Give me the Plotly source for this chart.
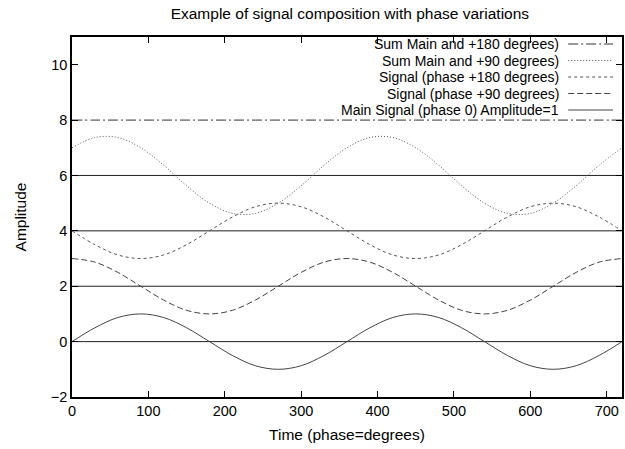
import plotly.graph_objects as go

deg = [0, 30, 60, 90, 120, 150, 180, 210, 240, 270, 300, 330, 360,
       390, 420, 450, 480, 510, 540, 570, 600, 630, 660, 690, 720]
main_sig = [0, 0.5, 0.87, 1, 0.87, 0.5, 0, -0.5, -0.87, -1, -0.87, -0.5, 0,
            0.5, 0.87, 1, 0.87, 0.5, 0, -0.5, -0.87, -1, -0.87, -0.5, 0]
sig_p90 = [3, 2.87, 2.5, 2, 1.5, 1.13, 1, 1.13, 1.5, 2, 2.5, 2.87, 3,
           2.87, 2.5, 2, 1.5, 1.13, 1, 1.13, 1.5, 2, 2.5, 2.87, 3]
sig_p180 = [4, 3.5, 3.13, 3, 3.13, 3.5, 4, 4.5, 4.87, 5, 4.87, 4.5, 4,
            3.5, 3.13, 3, 3.13, 3.5, 4, 4.5, 4.87, 5, 4.87, 4.5, 4]
sum_p90 = [7, 7.37, 7.37, 7, 6.37, 5.63, 5, 4.63, 4.63, 5, 5.63, 6.37, 7,
           7.37, 7.37, 7, 6.37, 5.63, 5, 4.63, 4.63, 5, 5.63, 6.37, 7]
sum_p180 = [8] * 25
baselines = [0, 2, 4, 6]

names = ["Sum Main and +180 degrees)", "Sum Main and +90 degrees)",
         "Signal (phase +180 degrees)", "Signal (phase +90 degrees)",
         "Main Signal (phase 0) Amplitude=1"]
series = [sum_p180, sum_p90, sig_p180, sig_p90, main_sig]
dashes = ["10px,3px,2px,3px", "1px,2px", "3px,3px", "6px,3px", "solid"]
colors = ["#333333", "#555555", "#555555", "#444444", "#444444"]

FONT = "Liberation Sans, Arial, sans-serif"
TXT = 15.5
LEGTXT = 14
fig = go.Figure()

for b in baselines:
    fig.add_trace(go.Scatter(x=[deg[0], deg[-1]], y=[b, b], mode="lines",
                             line=dict(color="#222222", width=1),
                             showlegend=False, hoverinfo="skip"))

for nm, ys, ds, c in zip(names, series, dashes, colors):
    fig.add_trace(go.Scatter(x=deg, y=ys, mode="lines", name=nm,
                             line=dict(color=c, width=1, dash=ds, shape="spline"),
                             showlegend=False))

# legend (gnuplot style: text right-aligned, sample on the right)
L, R, T, B = 72, 624, 37, 397
W, H = 625, 449
pw, ph = R - L, B - T
leg_y = [44, 60.5, 77, 93.5, 110]
for nm, ds, c, yy in zip(names, dashes, colors, leg_y):
    yp = (B - yy) / ph
    fig.add_annotation(x=(562 - L) / pw, y=yp, xref="paper", yref="paper",
                       text=nm, showarrow=False, xanchor="right", yanchor="middle",
                       borderpad=0,
                       font=dict(family=FONT, size=LEGTXT, color="black"))
    fig.add_shape(type="line", xref="paper", yref="paper",
                  x0=(570 - L) / pw, x1=(615 - L) / pw, y0=yp, y1=yp,
                  line=dict(color=c, width=1, dash=ds))

axis_common = dict(showgrid=False, zeroline=False, showline=True, mirror="ticks",
                   linecolor="black", linewidth=1.5, ticks="inside", ticklen=6,
                   tickcolor="black", tickwidth=1,
                   tickfont=dict(family=FONT, size=14.5, color="black"))

fig.update_layout(
    width=W, height=H,
    margin=dict(l=L, r=W - R, t=T, b=H - B),
    paper_bgcolor="white", plot_bgcolor="white",
    title=dict(text="Example of signal composition with phase variations",
               x=(L + R) / 2 / W + 0.003, xanchor="center", y=1 - 14 / H, yanchor="middle",
               font=dict(family=FONT, size=TXT, color="black")),
    xaxis=dict(range=[0, 720], tickvals=[0, 100, 200, 300, 400, 500, 600, 700],
               title=dict(text="Time (phase=degrees)", standoff=11,
                          font=dict(family=FONT, size=TXT, color="black")),
               **axis_common),
    yaxis=dict(range=[-2, 11], tickvals=[-2, 0, 2, 4, 6, 8, 10],
               title=dict(text="Amplitude", standoff=20,
                          font=dict(family=FONT, size=TXT, color="black")),
               **axis_common),
)

fig.write_html("out.html")
